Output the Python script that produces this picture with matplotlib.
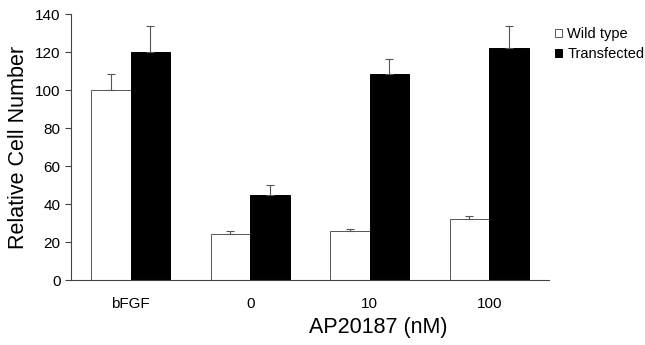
import matplotlib
matplotlib.use("Agg")
import matplotlib.pyplot as plt
import numpy as np

plt.rcParams['font.family'] = ['Liberation Sans', 'DejaVu Sans']

categories = ["bFGF", "0", "10", "100"]
wild = [100, 24.5, 26, 32]
wild_err = [8.5, 1.5, 1.0, 1.5]
trans = [120, 45, 108.5, 122]
trans_err = [14, 5, 8, 12]

fig = plt.figure(figsize=(6.45, 3.45), dpi=100)
ax = fig.add_axes([0.110, 0.188, 0.741, 0.771])

x = np.arange(len(categories))
w = 0.33
ekw = dict(ecolor="#555555", elinewidth=0.8, capsize=3, capthick=0.8)
ax.bar(x - w/2, wild, w, color="white", edgecolor="#555555", linewidth=0.7,
       yerr=[np.zeros(4), wild_err], error_kw=ekw, label="Wild type", zorder=2)
ax.bar(x + w/2, trans, w, color="black", edgecolor="black", linewidth=0.7,
       yerr=[np.zeros(4), trans_err], error_kw=ekw, label="Transfected", zorder=2)

ax.set_xlim(-0.5, 3.5)
ax.set_ylim(0, 140)
ax.set_yticks(np.arange(0, 141, 20))
ax.set_xticks(x)
ax.set_xticklabels(categories, fontsize=11)
ax.tick_params(axis='x', length=0, pad=12)
ax.tick_params(axis='y', labelsize=11, length=4, direction='out', width=0.8, color="#444444")
for s in ["top", "right"]:
    ax.spines[s].set_visible(False)
for s in ["left", "bottom"]:
    ax.spines[s].set_color("#444444")
    ax.spines[s].set_linewidth(0.8)

ax.set_ylabel("Relative Cell Number", fontsize=15.5, labelpad=4)
ax.set_xlabel("AP20187 (nM)", fontsize=15.5)
ax.xaxis.set_label_coords((378 - 71) / 478, -0.14)

handles, labels = ax.get_legend_handles_labels()
fig.legend(handles, labels, loc="upper left", bbox_to_anchor=(555/645, 1 - 27/345),
           frameon=False, fontsize=10.5, handlelength=0.5, handleheight=0.5,
           handletextpad=0.35, labelspacing=0.4, borderaxespad=0, borderpad=0)

fig.savefig("out.png", dpi=100)
